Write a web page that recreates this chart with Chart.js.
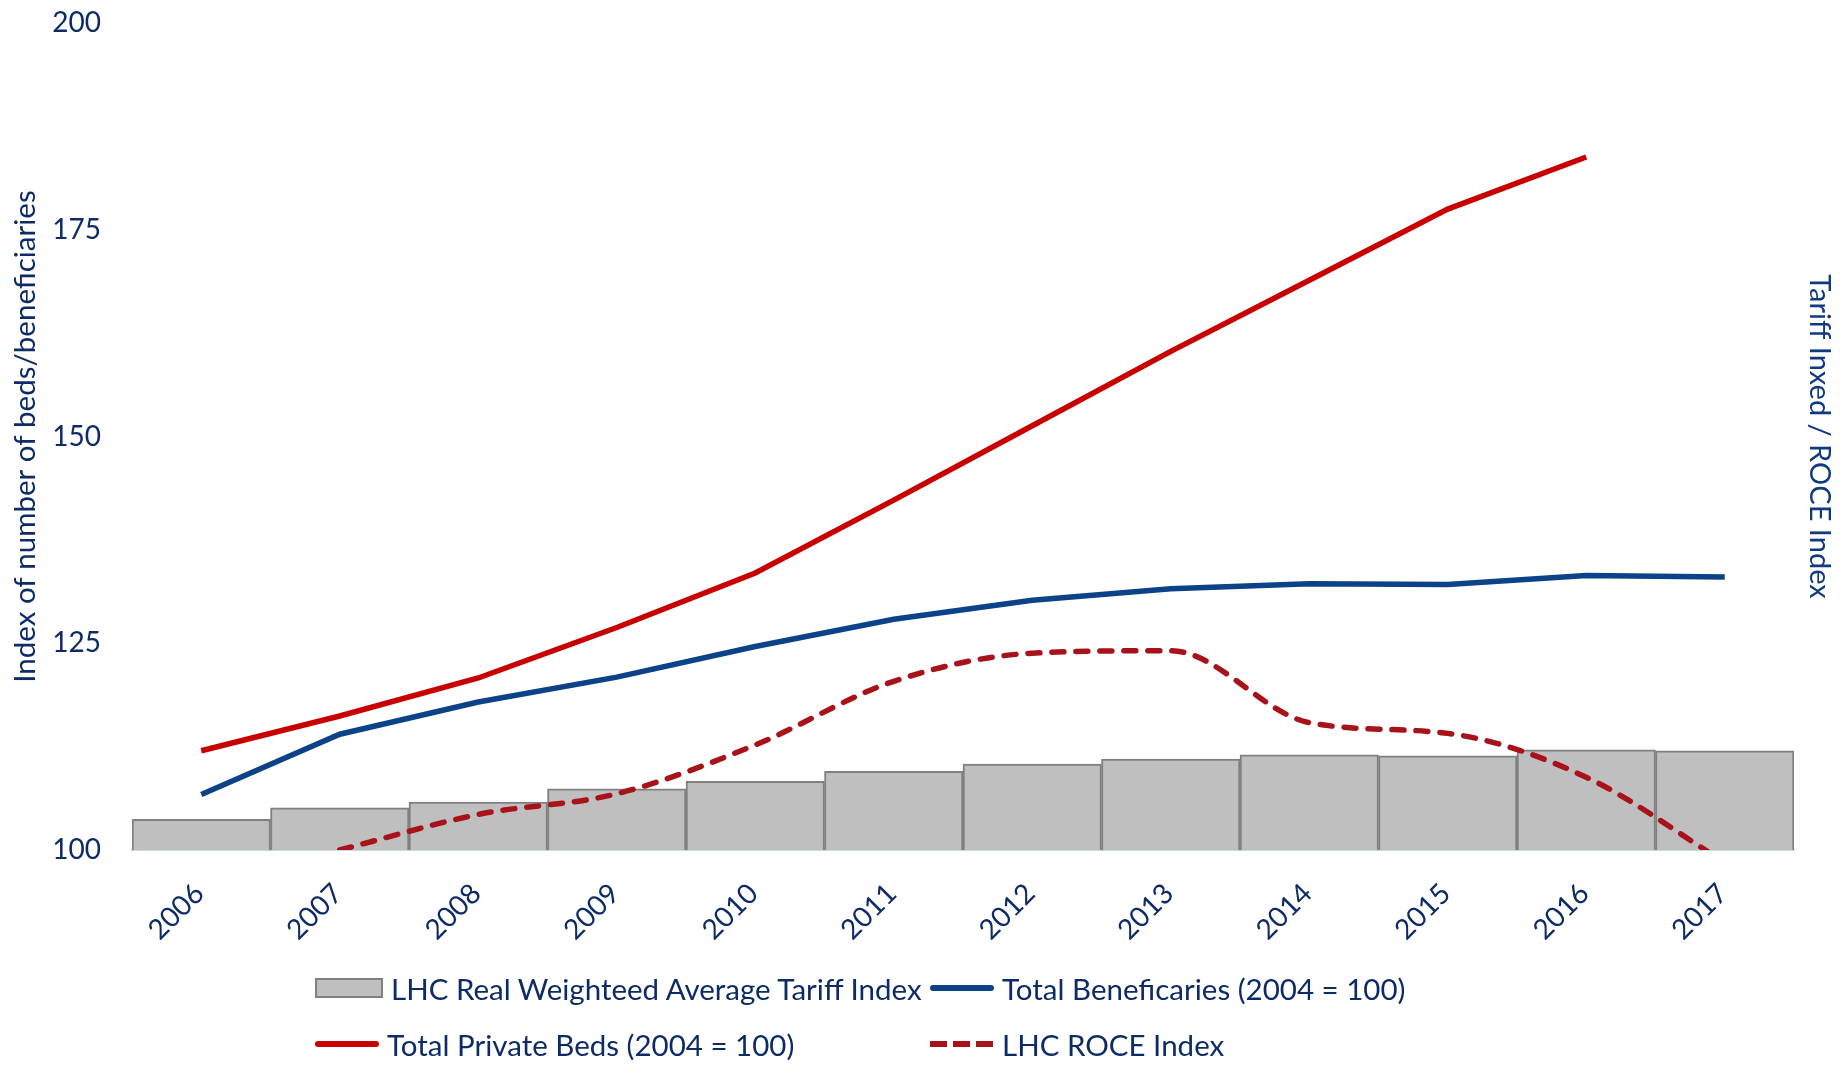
<!DOCTYPE html>
<html>
<head>
<meta charset="utf-8">
<title>LHC tariff / beds / beneficiaries</title>
<script src="https://cdn.jsdelivr.net/npm/chart.js@4.4.1/dist/chart.umd.min.js"></script>
<style>
  html, body { margin:0; padding:0; background:#fff; }
  #wrap { position:relative; width:1845px; height:1066px; }
  #legend {
    position:absolute; left:315px; top:960px;
    display:grid; grid-template-columns:615px 500px; grid-auto-rows:56px;
    font-family:Lato, sans-serif; font-size:29.5px; color:#0d2b66;
  }
  #legend .item { display:flex; align-items:center; white-space:nowrap; }
  #legend .sw { display:inline-block; width:64px; margin-right:8px; flex:none; }
  #legend .box { height:16px; background:#bfbfbf; border:2px solid #808080; }
  #legend .line { height:6px; border-radius:3px; }
  #legend .dash { height:6px; }
</style>
</head>
<body>
<div id="wrap">
  <canvas id="chart"></canvas>
  <div id="legend"></div>
</div>
<script>
const years = ['2006','2007','2008','2009','2010','2011','2012','2013','2014','2015','2016','2017'];
const tariffIndex   = [103.7, 105.1, 105.8, 107.4, 108.3, 109.5, 110.4, 111.0, 111.5, 111.4, 112.1, 112.0];
const beneficiaries = [106.7, 114.0, 117.9, 120.9, 124.6, 127.9, 130.2, 131.6, 132.2, 132.1, 133.2, 133.0];
const privateBeds   = [112.0, 116.2, 120.8, 126.9, 133.5, 142.3, 151.3, 160.3, 168.9, 177.5, 183.8, null];
const roceIndex     = [null, 100.0, 104.3, 106.8, 112.7, 120.4, 123.8, 124.1, 115.4, 114.1, 108.8, 98.5];
const leftTicks = [100, 125, 150, 175, 200];

const NAVY = '#0d2b66';
const FONT = 'Lato';

// fixed axis boxes so the plot area sits where the original has it
const fixBox = (w, h) => s => {
  if (w != null) s.width = w;
  if (h != null) s.height = h;
  s.paddingTop = s.paddingBottom = s.paddingLeft = s.paddingRight = 0;
};

const chart = new Chart(document.getElementById('chart'), {
  data: {
    labels: years,
    datasets: [
      { type:'bar', label:'LHC Real Weighteed Average Tariff Index', data:tariffIndex, yAxisID:'y1',
        backgroundColor:'#bfbfbf', borderColor:'#808080', borderWidth:2,
        categoryPercentage:1, barPercentage:1, order:10 },
      { type:'line', label:'Total Beneficaries (2004 = 100)', data:beneficiaries, yAxisID:'y',
        borderColor:'#0b4288', borderWidth:5.5, pointRadius:0, tension:0, order:2 },
      { type:'line', label:'Total Private Beds (2004 = 100)', data:privateBeds, yAxisID:'y',
        borderColor:'#c80000', borderWidth:5.5, pointRadius:0, tension:0, order:1 },
      { type:'line', label:'LHC ROCE Index', data:roceIndex, yAxisID:'y1',
        borderColor:'#a8121a', borderWidth:5.5, borderDash:[12,12], borderCapStyle:'round',
        pointRadius:0, cubicInterpolationMode:'monotone', order:3 }
    ]
  },
  options: {
    responsive:true, maintainAspectRatio:false, animation:false,
    layout:{ padding:{ top:23, left:0, right:0, bottom:126 } },
    plugins:{ legend:{ display:false }, tooltip:{ enabled:false } },
    scales:{
      x:{
        afterFit: fixBox(null, 90),
        grid:{ display:false, drawTicks:false },
        border:{ color:'#c6d9f0', width:2 },
        ticks:{ color:NAVY, font:{ family:FONT, size:28 }, minRotation:45, maxRotation:45,
                padding:27, labelOffset:-2 }
      },
      y:{
        position:'left', min:100, max:200,
        afterFit: fixBox(132, null),
        afterBuildTicks: s => { s.ticks = leftTicks.map(v => ({ value:v })); },
        grid:{ display:false, drawTicks:false }, border:{ display:false },
        ticks:{ color:NAVY, font:{ family:FONT, size:28 }, padding:31 },
        title:{ display:true, text:'Index of number of beds/beneficiaries', color:NAVY,
                font:{ family:FONT, size:29.5 }, padding:{ top:8, bottom:0 } }
      },
      y1:{
        position:'right', min:100, max:200,
        afterFit: fixBox(51, null),
        grid:{ display:false, drawTicks:false }, border:{ display:false },
        ticks:{ display:false },
        title:{ display:true, text:'Tariff Inxed / ROCE Index', color:'#0f3a80',
                font:{ family:FONT, size:29 }, padding:{ top:8, bottom:0 } }
      }
    }
  }
});

// legend in two columns, built from the datasets
const legendEl = document.getElementById('legend');
chart.data.datasets.forEach(ds => {
  const item = document.createElement('div');
  item.className = 'item';
  const sw = document.createElement('span');
  if (ds.type === 'bar') {
    sw.className = 'sw box';
  } else if (ds.borderDash) {
    sw.className = 'sw dash';
    sw.style.background = `repeating-linear-gradient(to right, ${ds.borderColor} 0 17px, transparent 17px 23px)`;
  } else {
    sw.className = 'sw line';
    sw.style.background = ds.borderColor;
  }
  const txt = document.createElement('span');
  txt.textContent = ds.label;
  item.append(sw, txt);
  legendEl.append(item);
});
</script>
</body>
</html>
